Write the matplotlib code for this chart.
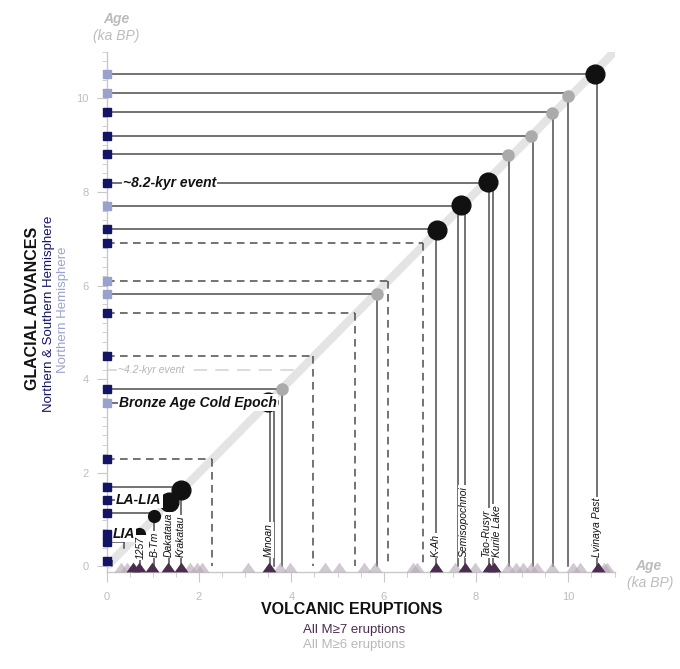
import matplotlib
matplotlib.use("Agg")
import matplotlib.pyplot as plt
from matplotlib.path import Path
from matplotlib.ticker import MultipleLocator

# glacial advances (ka BP), hemisphere, where the connector ends, dashed or not
glacial_age = [10.51, 10.11, 9.71, 9.19, 8.80, 8.20, 7.70, 7.20, 6.91, 6.10, 5.81,
               5.41, 4.49, 3.79, 3.50, 2.30, 1.70, 1.42, 1.13, 0.69, 0.51, 0.12]
glacial_hemi = ["N", "N", "NS", "NS", "NS", "NS", "N", "NS", "NS", "N", "N",
                "NS", "NS", "NS", "N", "NS", "NS", "NS", "NS", "NS", "NS", "NS"]
glacial_end = [10.57, 9.99, 9.65, 9.20, 8.70, 8.25, 7.68, 7.15, 6.86, 6.09, 5.85,
               5.38, 4.47, 3.79, 3.50, 2.28, 1.61, 1.34, 1.02, 0.70, 0.38, 0.12]
glacial_dashed = [False, False, False, False, False, False, False, False, True, True, False,
                  True, True, False, False, True, False, False, False, False, False, False]

# named cold events
event_age = [8.20, 3.50, 1.42, 0.69]
event_name = ["~8.2-kyr event", "Bronze Age Cold Epoch", "LA-LIA", "LIA"]
event_x = [0.35, 0.27, 0.20, 0.13]

# dots on the 1:1 line
dot_x = [10.57, 9.99, 9.65, 9.20, 8.70, 8.25, 7.68, 7.15, 5.85, 3.79, 3.50, 1.61, 1.34, 1.02, 0.71]
dot_y = [10.53, 10.04, 9.69, 9.19, 8.78, 8.21, 7.71, 7.18, 5.82, 3.79, 3.51, 1.64, 1.38, 1.08, 0.69]
dot_kind = ["big", "gray", "gray", "gray", "gray", "big", "big", "big", "gray", "gray",
            "big", "big", "big", "small", "small"]

# vertical drop lines of eruptions
drop_x = [0.12, 0.38, 0.72, 1.02, 1.35, 1.61, 3.53, 3.62, 3.79, 5.85, 7.13,
          7.60, 7.75, 8.28, 8.37, 8.71, 9.23, 9.66, 9.99, 10.62]
drop_top = [0.12, 0.55, 0.69, 1.08, 1.38, 1.64, 3.51, 3.51, 3.79, 5.82, 7.18,
            7.71, 7.71, 8.21, 8.21, 8.78, 9.19, 9.69, 10.04, 10.53]
drop_bottom = [0, 0.40, 0, 0, 0, 0, 0, 0, 0, 0, 0,
               0, 0, 0, 0, 0, 0, 0, 0, 0]

# eruptions on the time axis
m7_ages = [0.58, 0.69, 0.99, 1.33, 1.60, 3.52, 7.13, 7.76, 8.27, 8.39, 10.65]
m6_ages = [0.32, 0.43, 1.80, 1.96, 2.06, 3.05, 3.75, 3.96, 4.73, 5.04, 5.57, 5.81,
           6.64, 6.71, 7.54, 7.98, 8.70, 8.86, 9.02, 9.20, 9.33, 9.64, 10.10, 10.25,
           10.76, 10.84]

erupt_name = ["1257", "B-Tm", "Dakataua", "Krakatau", "Minoan", "K-Ah", "Semisopochnoi",
              "Tao-Rusyr", "Kurile Lake", "Lvinaya Past"]
erupt_label_x = [0.73, 1.05, 1.35, 1.61, 3.50, 7.13, 7.73, 8.21, 8.46, 10.62]
erupt_label_y = [0.16, 0.2, 0.2, 0.2, 0.2, 0.2, 0.2, 0.2, 0.2, 0.2]

navy = "#141466"
light_navy = "#99a2cc"
line_col = "#4d4d4d"
purple = "#4b2d4f"
narrow = ["Liberation Sans Narrow", "Liberation Sans", "DejaVu Sans"]
plt.rcParams["font.family"] = ["Liberation Sans", "DejaVu Sans"]

fig = plt.figure(figsize=(6.8, 6.69), dpi=100)
ax = fig.add_axes([0.1569, 0.1444, 0.7469, 0.7786])
ax.set_xlim(0, 11)
ax.set_ylim(-0.13, 11)

# 1:1 line
ax.plot([0, 11], [0, 11], color="#e4e4e4", lw=6, solid_capstyle="butt", zorder=1)

for y, xe, d in zip(glacial_age, glacial_end, glacial_dashed):
    ls = (0, (5, 3.5)) if d else "-"
    ax.plot([0, xe], [y, y], color=line_col, lw=1.1, ls=ls, zorder=2)
    if d:
        ax.plot([xe, xe], [y, 0], color=line_col, lw=1.1, ls=ls, zorder=2)

for x, t, b in zip(drop_x, drop_top, drop_bottom):
    ax.plot([x, x], [t, b], color=line_col, lw=1.1, zorder=2)

# ~4.2 kyr event
ax.plot([0, 4.19], [4.19, 4.19], color="#d6d6d6", lw=1.2, ls=(0, (8, 5)), zorder=2)
ax.text(0.25, 4.19, "~4.2-kyr event", fontsize=7.5, style="italic", color="#b4b4b4",
        family=narrow, va="center", ha="left", zorder=5,
        bbox=dict(facecolor="white", edgecolor="none", pad=1))

size = {"big": 13.5, "gray": 8, "small": 8.5}
col = {"big": "#111111", "gray": "#ababab", "small": "#111111"}
for x, y, k in zip(dot_x, dot_y, dot_kind):
    ax.plot(x, y, "o", ms=size[k], color=col[k], mec=col[k], zorder=4)

for y, h in zip(glacial_age, glacial_hemi):
    ax.plot(0, y, "s", ms=5.8, color=navy if h == "NS" else light_navy,
            clip_on=False, zorder=7)

for y, n, x in zip(event_age, event_name, event_x):
    ax.text(x, y, n, fontsize=10, fontweight="bold", style="italic", color="#111111",
            family=narrow, va="center", ha="left", zorder=5,
            bbox=dict(facecolor="white", edgecolor="none", pad=0.8))

for n, x, y in zip(erupt_name, erupt_label_x, erupt_label_y):
    ax.text(x, y, n, rotation=90, fontsize=7.5, style="italic", color="#111111",
            family=narrow, va="bottom", ha="center", zorder=5,
            bbox=dict(facecolor="white", edgecolor="none", pad=0.6))

tri = Path([(-1, -0.7), (1, -0.7), (0, 0.7), (-1, -0.7)])
ax.plot(m6_ages, [-0.025] * len(m6_ages), ls="none", marker=tri, ms=10,
        color="#b3a6b3", alpha=0.6, mew=0, clip_on=False, zorder=6)
ax.plot(m7_ages, [-0.025] * len(m7_ages), ls="none", marker=tri, ms=10,
        color=purple, mew=0, clip_on=False, zorder=6)

for s in ["top", "right"]:
    ax.spines[s].set_visible(False)
for s in ["left", "bottom"]:
    ax.spines[s].set_color("#c8c8c8")
    ax.spines[s].set_linewidth(1)

ax.xaxis.set_major_locator(MultipleLocator(2))
ax.xaxis.set_minor_locator(MultipleLocator(0.5))
ax.yaxis.set_major_locator(MultipleLocator(2))
ax.yaxis.set_minor_locator(MultipleLocator(0.2))
ax.tick_params(which="major", length=7, color="#c8c8c8", labelcolor="#bdbdbd", labelsize=8)
ax.tick_params(which="minor", length=3.5, color="#c8c8c8")
ax.tick_params(axis="x", which="major", pad=7)
ax.tick_params(axis="y", which="major", pad=6)

W, H = 680, 669
def ft(px, py, s, **kw):
    fig.text(px / W, 1 - py / H, s, ha="center", va="center", **kw)

ft(33, 308, "GLACIAL ADVANCES", rotation=90, fontsize=11.5, fontweight="bold", color="#111111")
ft(49, 314, "Northern & Southern Hemisphere", rotation=90, fontsize=9.5, color=navy)
ft(63, 310, "Northern Hemisphere", rotation=90, fontsize=9.5, color=light_navy)

ft(352, 610, "VOLCANIC ERUPTIONS", fontsize=11.5, fontweight="bold", color="#111111")
ft(354, 630, "All M≥7 eruptions", fontsize=9.5, color=purple)
ft(354, 645, "All M≥6 eruptions", fontsize=9.5, color="#b8b8b8")

ft(116, 19, "Age", fontsize=10, fontweight="bold", style="italic", color="#bcbcbc")
ft(116, 36, "(ka BP)", fontsize=10, style="italic", color="#bcbcbc")
ft(648, 566, "Age", fontsize=10, fontweight="bold", style="italic", color="#bcbcbc")
ft(650, 583, "(ka BP)", fontsize=10, style="italic", color="#bcbcbc")

fig.savefig("out.png", dpi=100, facecolor="white")
